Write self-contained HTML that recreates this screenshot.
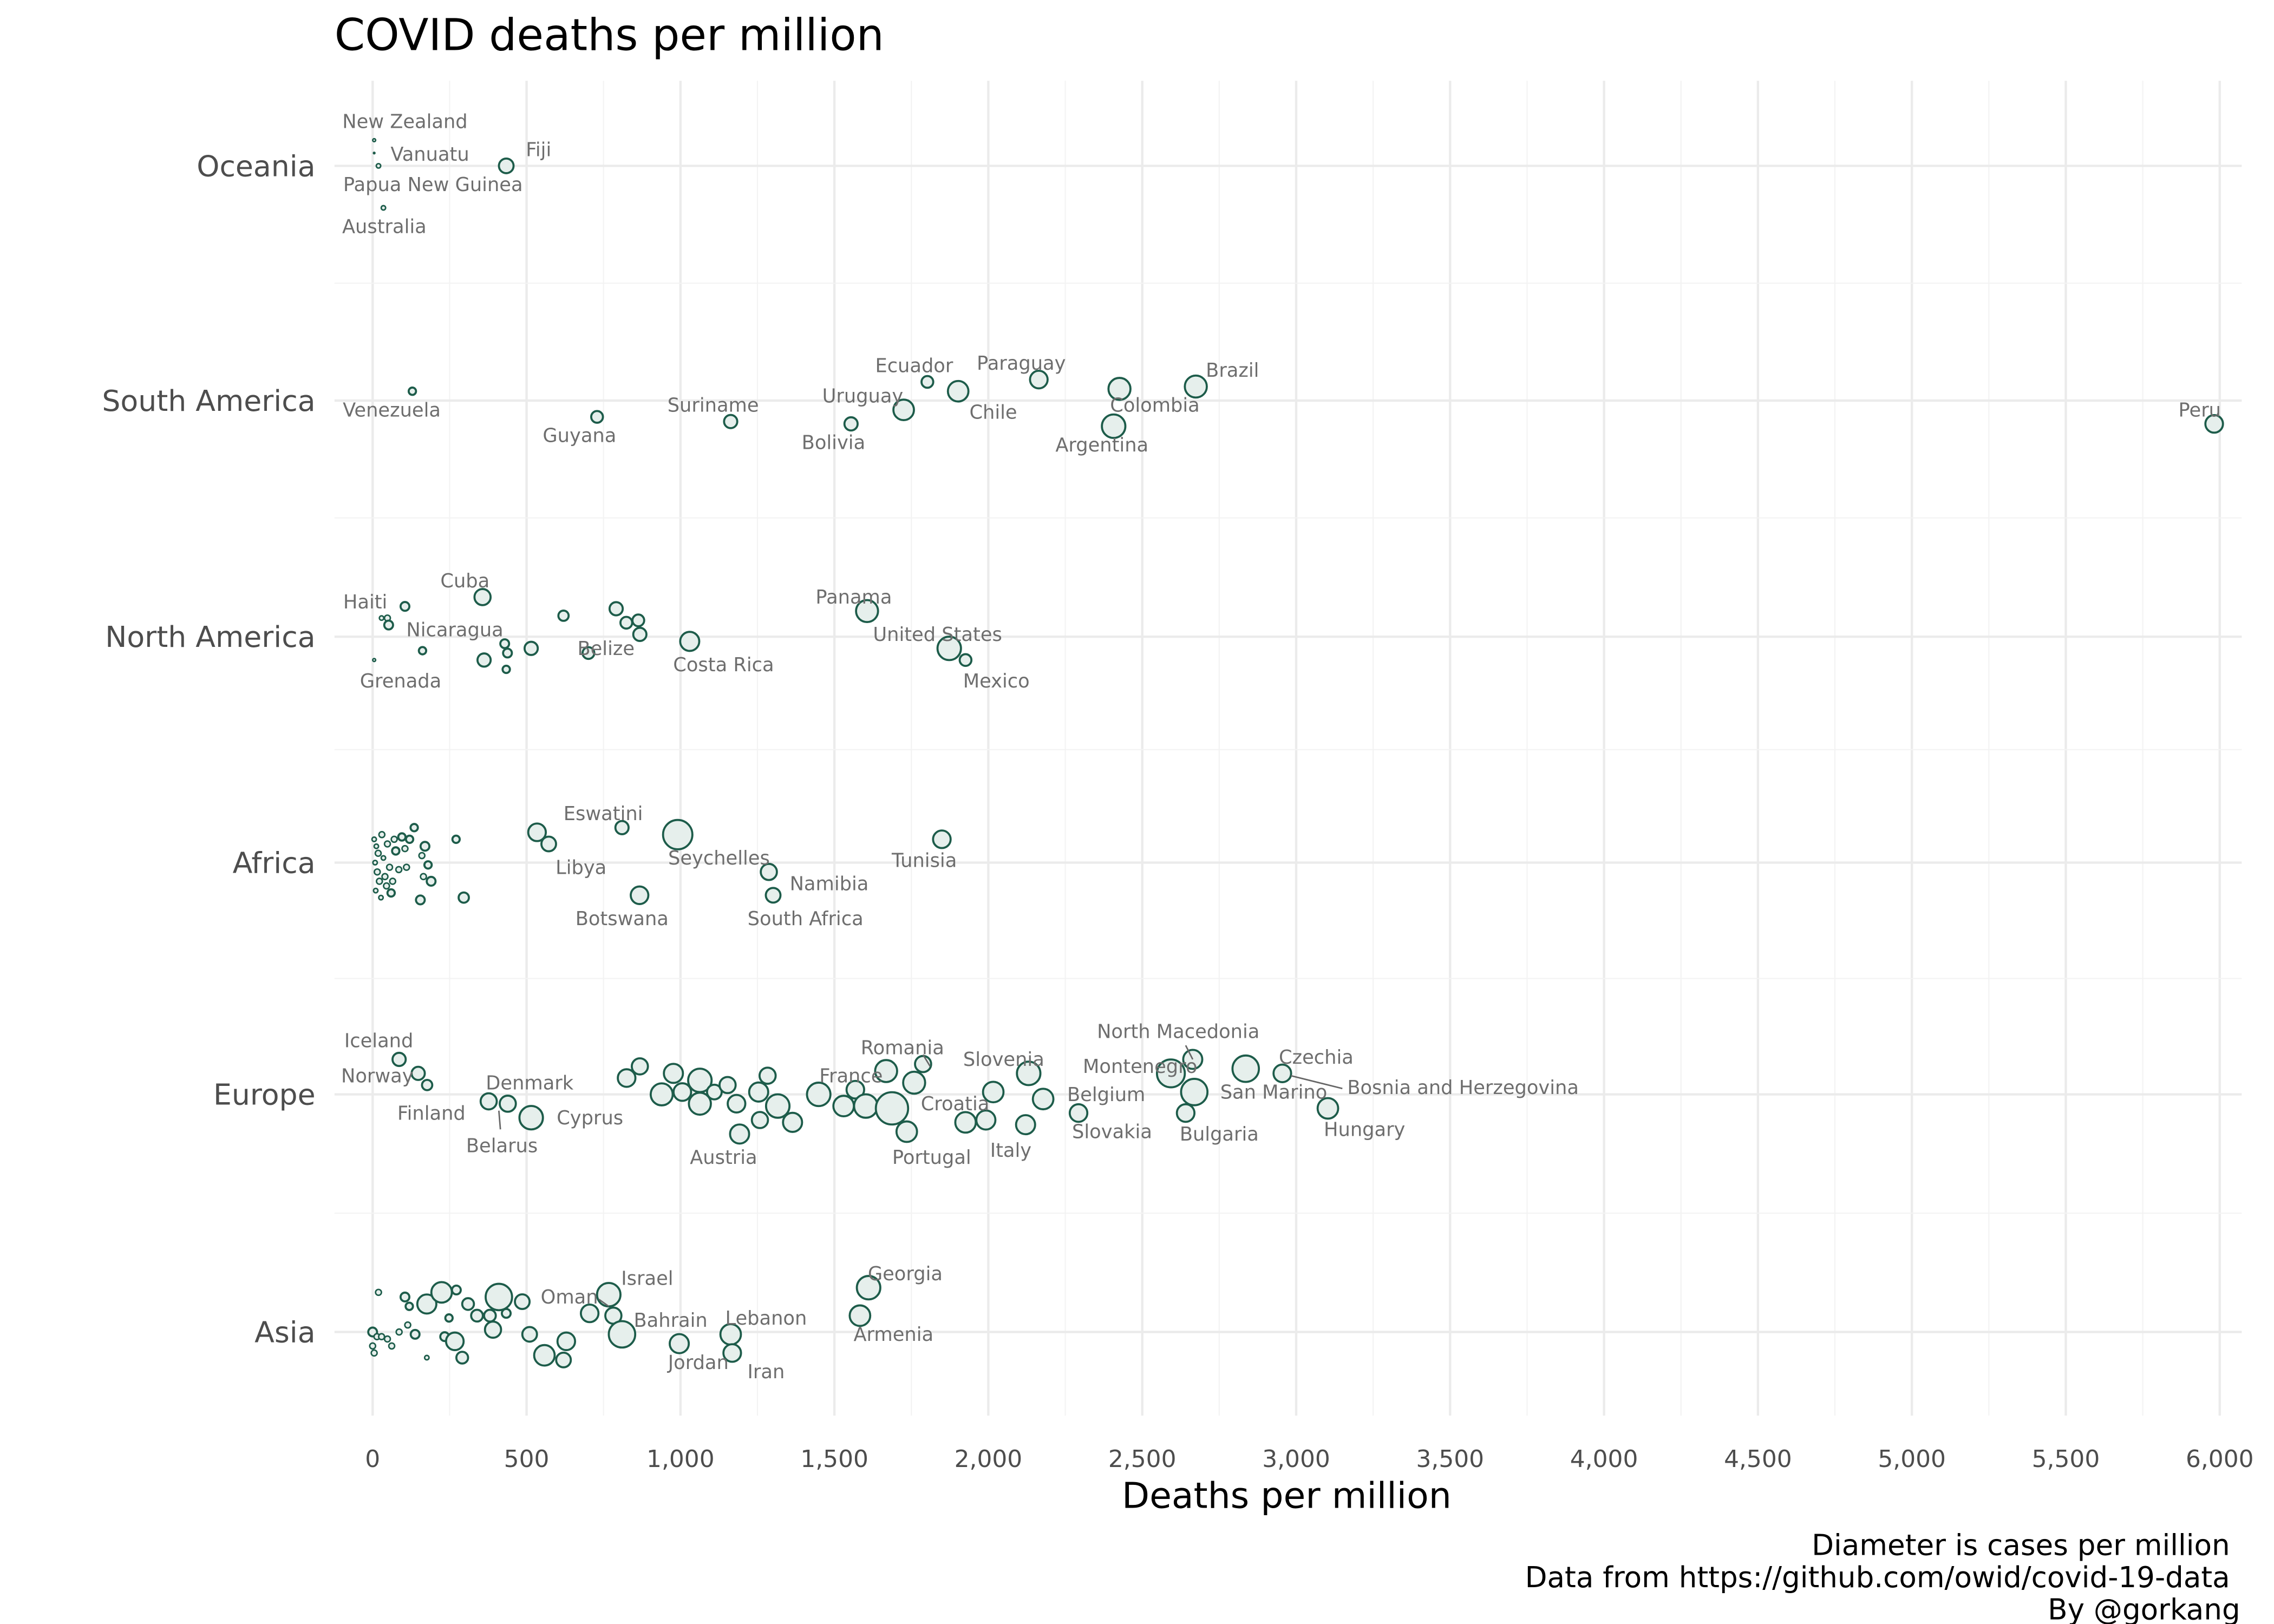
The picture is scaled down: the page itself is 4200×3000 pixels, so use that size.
<!DOCTYPE html>
<html><head><meta charset="utf-8"><style>
html,body{margin:0;padding:0;background:#fff}
svg{display:block;font-family:"DejaVu Sans","Liberation Sans",sans-serif}
</style></head><body>
<svg id="chart" width="4200" height="3000" viewBox="0 0 1550 1107" xmlns="http://www.w3.org/2000/svg">
<rect x="0" y="0" width="1550" height="1107" fill="#fff"/>
<g id="grid"></g>
<g id="marks"></g>
<g id="labels"></g>
<g id="axes"></g>
<text x="228" y="34" font-size="29.8" fill="#000">COVID deaths per million</text>
<text x="877" y="1028" font-size="24.5" text-anchor="middle" fill="#000">Deaths per million</text>
<g font-size="19.6" text-anchor="end" fill="#000">
<text x="1520" y="1060">Diameter is cases per million</text>
<text x="1520" y="1082">Data from https://github.com/owid/covid-19-data</text>
<text x="1527" y="1104">By @gorkang</text>
</g>
</svg>
<script>
const continents = ["Oceania","South America","North America","Africa","Europe","Asia"];
const xTicks = [0,500,1000,1500,2000,2500,3000,3500,4000,4500,5000,5500,6000];
const xTickLabels = ["0","500","1,000","1,500","2,000","2,500","3,000","3,500","4,000","4,500","5,000","5,500","6,000"];
// each point: [continentIndex, deathsPerMillion, jitter (category units), casesSize]
const oceaniaPts = [[0,5,-0.11,1],[0,5,-0.055,0.5],[0,19,0,1.5],[0,35,0.18,1.5],[0,434,0,5]];
const southAmericaPts = [[1,129,-0.04,2.5],[1,729,0.07,4],[1,1163,0.09,4.5],[1,1554,0.1,4.5],[1,1725,0.04,7],[1,1802,-0.08,4],[1,1902,-0.04,7],[1,2164,-0.09,6],[1,2407,0.11,8],[1,2426,-0.05,7.5],[1,2674,-0.06,7.5],[1,5982,0.1,6]];
const northAmericaPts = [[2,105,-0.13,3],[2,29,-0.08,1.5],[2,48,-0.08,2],[2,52,-0.05,3],[2,5,0.1,1],[2,162,0.06,2.5],[2,357,-0.17,5.5],[2,362,0.1,4.5],[2,429,0.03,3],[2,438,0.07,3],[2,434,0.14,2.5],[2,515,0.05,4.5],[2,620,-0.09,3.5],[2,701,0.07,4],[2,791,-0.12,4.5],[2,824,-0.06,4],[2,863,-0.07,4],[2,868,-0.01,4.5],[2,1030,0.02,6.5],[2,1606,-0.11,7.5],[2,1873,0.05,8],[2,1926,0.1,4]];
const africaPts = [[3,5,-0.1,1.5],[3,12,-0.07,1.5],[3,18,-0.04,2],[3,8,0,1.5],[3,15,0.04,2],[3,22,0.08,2],[3,10,0.12,1.5],[3,30,-0.12,2],[3,35,-0.02,1.5],[3,40,0.06,2],[3,48,-0.08,2],[3,55,0.02,2],[3,60,0.13,2.5],[3,70,-0.1,2],[3,75,-0.05,2.5],[3,85,0.03,2],[3,95,-0.11,2.5],[3,105,-0.06,2],[3,110,0.02,2],[3,120,-0.1,2.5],[3,135,-0.15,2.5],[3,155,0.16,3],[3,160,-0.03,2],[3,165,0.06,2],[3,170,-0.07,3],[3,180,0.01,2.5],[3,190,0.08,3],[3,65,0.08,2],[3,45,0.1,2],[3,27,0.15,1.5],[3,271,-0.1,2.5],[3,296,0.15,3.5],[3,534,-0.13,6],[3,572,-0.08,5],[3,810,-0.15,4.5],[3,991,-0.12,10],[3,867,0.14,6],[3,1287,0.04,5.5],[3,1301,0.14,5],[3,1849,-0.1,6]];
const europePts = [[4,86,-0.15,4.5],[4,148,-0.09,4.5],[4,177,-0.04,3.5],[4,377,0.03,5.5],[4,439,0.04,5.5],[4,515,0.1,8],[4,825,-0.07,6],[4,868,-0.12,5.5],[4,939,0,7.5],[4,977,-0.09,6.5],[4,1006,-0.01,6],[4,1063,-0.06,8],[4,1063,0.04,7.5],[4,1110,-0.01,5],[4,1153,-0.04,5.5],[4,1182,0.04,6],[4,1192,0.17,6.5],[4,1254,-0.01,6.5],[4,1258,0.11,5.5],[4,1283,-0.08,5.5],[4,1316,0.05,8],[4,1364,0.12,6.5],[4,1449,0,8],[4,1530,0.05,7],[4,1568,-0.02,6],[4,1602,0.05,8],[4,1668,-0.1,7.5],[4,1687,0.06,11],[4,1735,0.16,7],[4,1759,-0.05,7.5],[4,1788,-0.13,5.5],[4,1926,0.12,7],[4,1992,0.11,6.5],[4,2016,-0.01,7],[4,2121,0.13,6.5],[4,2131,-0.09,8],[4,2178,0.02,7],[4,2293,0.08,6],[4,2593,-0.09,9.5],[4,2641,0.08,6],[4,2669,-0.01,9],[4,2664,-0.15,6.5],[4,2836,-0.11,9],[4,2955,-0.09,6],[4,3103,0.06,7]];
const asiaPts = [[5,19,-0.17,2],[5,0,0,3],[5,14,0.02,2],[5,0,0.06,2],[5,5,0.09,2],[5,29,0.02,2],[5,48,0.03,2],[5,62,0.06,2],[5,86,0,2],[5,114,-0.03,2],[5,105,-0.15,3],[5,119,-0.11,2.5],[5,138,0.01,3],[5,176,0.11,1.5],[5,176,-0.12,6.5],[5,224,-0.17,7],[5,234,0.02,3],[5,248,-0.06,2.5],[5,272,-0.18,3],[5,267,0.04,6],[5,291,0.11,4],[5,310,-0.12,4],[5,339,-0.07,4],[5,381,-0.07,4],[5,391,-0.01,5.5],[5,410,-0.15,9],[5,434,-0.08,3],[5,486,-0.13,5],[5,510,0.01,5],[5,558,0.1,7],[5,620,0.12,5],[5,629,0.04,6],[5,705,-0.08,6],[5,767,-0.16,8],[5,782,-0.07,5.5],[5,810,0.01,9],[5,996,0.05,6.5],[5,1163,0.01,7],[5,1168,0.09,6],[5,1583,-0.07,7],[5,1611,-0.19,8]];
// labels: [continentIndex, deaths, jitter, text]
const labelNames = [
[0,105,-0.19,"New Zealand"],[0,186,-0.05,"Vanuatu"],[0,196,0.08,"Papua New Guinea"],[0,38,0.26,"Australia"],[0,539,-0.07,"Fiji"],
[1,62,0.04,"Venezuela"],[1,672,0.15,"Guyana"],[1,1106,0.02,"Suriname"],[1,1497,0.18,"Bolivia"],[1,1592,-0.02,"Uruguay"],[1,1759,-0.15,"Ecuador"],[1,2016,0.05,"Chile"],[1,2107,-0.16,"Paraguay"],[1,2369,0.19,"Argentina"],[1,2541,0.02,"Colombia"],[1,2793,-0.13,"Brazil"],[1,5935,0.04,"Peru"],
[2,300,-0.24,"Cuba"],[2,-24,-0.15,"Haiti"],[2,267,-0.03,"Nicaragua"],[2,91,0.19,"Grenada"],[2,758,0.05,"Belize"],[2,1140,0.12,"Costa Rica"],[2,1563,-0.17,"Panama"],[2,1835,-0.01,"United States"],[2,2026,0.19,"Mexico"],
[3,749,-0.21,"Eswatini"],[3,677,0.02,"Libya"],[3,1125,-0.02,"Seychelles"],[3,1483,0.09,"Namibia"],[3,810,0.24,"Botswana"],[3,1406,0.24,"South Africa"],[3,1792,-0.01,"Tunisia"],
[4,20,-0.23,"Iceland"],[4,15,-0.08,"Norway"],[4,191,0.08,"Finland"],[4,510,-0.05,"Denmark"],[4,420,0.22,"Belarus"],[4,706,0.1,"Cyprus"],[4,1140,0.27,"Austria"],[4,1554,-0.08,"France"],[4,1721,-0.2,"Romania"],[4,1892,0.04,"Croatia"],[4,1816,0.27,"Portugal"],[4,2073,0.24,"Italy"],[4,2050,-0.15,"Slovenia"],[4,2493,-0.12,"Montenegro"],[4,2383,0,"Belgium"],[4,2402,0.16,"Slovakia"],[4,2617,-0.27,"North Macedonia"],[4,2750,0.17,"Bulgaria"],[4,2927,-0.01,"San Marino"],[4,3065,-0.16,"Czechia"],[4,3542,-0.03,"Bosnia and Herzegovina"],[4,3222,0.15,"Hungary"],
[5,892,-0.23,"Israel"],[5,639,-0.15,"Oman"],[5,968,-0.05,"Bahrain"],[5,1278,-0.06,"Lebanon"],[5,1058,0.13,"Jordan"],[5,1278,0.17,"Iran"],[5,1730,-0.25,"Georgia"],[5,1692,0.01,"Armenia"]];
// leader segments: [continentIndex, fromDeaths, fromJitter, toDeaths, toJitter]
const leaders = [[4,1788,-0.17,1811,-0.12],[4,2641,-0.21,2664,-0.15],[4,2983,-0.08,3150,-0.025],[4,415,0.15,410,0.07],[5,735,-0.14,767,-0.11]];

const NS="http://www.w3.org/2000/svg";
const X0=254, X1=1513, D1=6000;
const catY=[113,273,434,588,746,908];
const CAT_SPACING=159;
function xScale(d){return X0+(X1-X0)*d/D1;}
function yScale(ci,j){return catY[ci]+j*CAT_SPACING;}
function mk(tag,attrs,parent){const e=document.createElementNS(NS,tag);for(const k in attrs)e.setAttribute(k,attrs[k]);parent.appendChild(e);return e;}

const grid=document.getElementById('grid');
for(let v=-250; v<=6250; v+=250){
  const x=xScale(v); if(x<228||x>1528) continue;
  const major=(v%500===0);
  const l=mk('line',{x1:x,x2:x,y1:55,y2:965,stroke:major?'#ebebeb':'#f3f3f3','stroke-width':major?1.6:0.8},grid);
  
  
}
const minorYs=[193,353,511,667,827];
minorYs.forEach(y=>{
  const l=mk('line',{x1:228,x2:1528,y1:y,y2:y,stroke:'#f3f3f3','stroke-width':0.8},grid);
  
  
});
continents.forEach((c,i)=>{
  const l=mk('line',{x1:228,x2:1528,y1:catY[i],y2:catY[i],stroke:'#ebebeb','stroke-width':1.6},grid);
  
  
});

const axes=document.getElementById('axes');
continents.forEach((c,i)=>{
  const t=mk('text',{x:215,y:catY[i]+7,'font-size':19.8,'text-anchor':'end',fill:'#4d4d4d'},axes);
  t.textContent=c;
  
  
});
xTicks.forEach((v,i)=>{
  const t=mk('text',{x:xScale(v),y:1000,'font-size':16.2,'text-anchor':'middle',fill:'#4d4d4d'},axes);
  t.textContent=xTickLabels[i];
  
  
});

const marks=document.getElementById('marks');
const allPts=[].concat(oceaniaPts,southAmericaPts,northAmericaPts,africaPts,europePts,asiaPts);
allPts.forEach(p=>{
  const c=mk('circle',{cx:xScale(p[1]),cy:yScale(p[0],p[2]),r:p[3],fill:'#e6efec',stroke:'#1d5c4a','stroke-width':p[3]<2.5?1:1.4},marks);
  
  
});

const labels=document.getElementById('labels');
leaders.forEach(s=>{
  const l=mk('line',{x1:xScale(s[1]),y1:yScale(s[0],s[2]),x2:xScale(s[3]),y2:yScale(s[0],s[4]),stroke:'#666','stroke-width':1},labels);
  
  
});
labelNames.forEach(p=>{
  const t=mk('text',{x:xScale(p[1]),y:yScale(p[0],p[2])+4.5,'font-size':13,'text-anchor':'middle',fill:'#6e6e6e'},labels);
  t.textContent=p[3];
  
  
});
</script>
</body></html>
